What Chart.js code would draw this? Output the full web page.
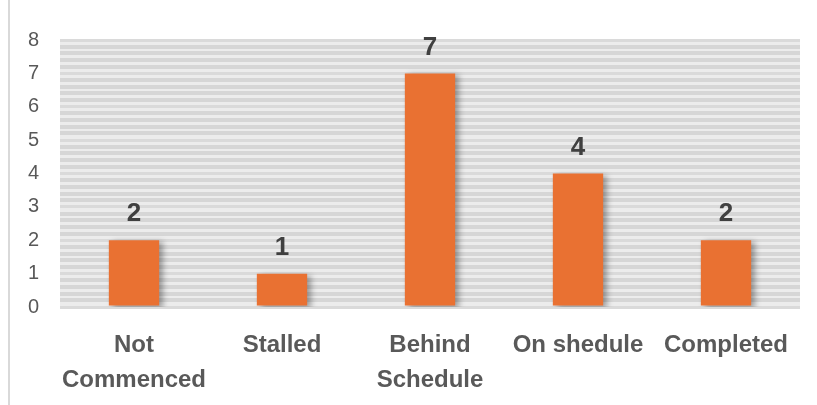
<!DOCTYPE html>
<html>
<head>
    <title>Project Status</title>
    <script src="https://cdn.jsdelivr.net/npm/chart.js"></script>
    <style>
        body { margin: 0; background: #fff; }
        .frame { position: absolute; left: 8px; top: 0; width: 809px; height: 405px; border-left: 2px solid #d9d9d9; }
        #wrap { position: absolute; left: 0; top: 0; width: 817px; height: 405px; }
    </style>
</head>
<body>
    <div class="frame"></div>
    <div id="wrap"><canvas id="status-chart"></canvas></div>

    <script>
        const categories = [['Not', 'Commenced'], 'Stalled', ['Behind', 'Schedule'], 'On shedule', 'Completed'];
        const projectCounts = [2, 1, 7, 4, 2];
        const yMax = 8;

        // light striped backdrop behind the plot area
        const plotBackdrop = {
            id: 'plotBackdrop',
            beforeDraw(chart) {
                const a = chart.chartArea, ctx = chart.ctx;
                ctx.save();
                ctx.fillStyle = '#ececec';
                ctx.fillRect(a.left, a.top, a.right - a.left, a.bottom - a.top);
                ctx.restore();
            }
        };

        const barShadow = {
            id: 'barShadow',
            beforeDatasetsDraw(chart) {
                const ctx = chart.ctx;
                ctx.save();
                ctx.shadowColor = 'rgba(0,0,0,0.35)';
                ctx.shadowOffsetX = 4;
                ctx.shadowOffsetY = 2;
                ctx.shadowBlur = 6;
            },
            afterDatasetsDraw(chart) {
                chart.ctx.restore();
            }
        };

        const valueLabels = {
            id: 'valueLabels',
            afterDatasetsDraw(chart) {
                const ctx = chart.ctx;
                const meta = chart.getDatasetMeta(0);
                ctx.save();
                ctx.font = 'bold 26px "Liberation Sans Narrow", "Liberation Sans", Arial, sans-serif';
                ctx.fillStyle = '#404040';
                ctx.textAlign = 'center';
                ctx.textBaseline = 'bottom';
                meta.data.forEach((bar, i) => {
                    ctx.fillText(projectCounts[i], bar.x, bar.y - 13);
                });
                ctx.restore();
            }
        };

        new Chart(document.getElementById('status-chart'), {
            type: 'bar',
            data: {
                labels: categories,
                datasets: [{
                    data: projectCounts,
                    backgroundColor: '#e97132',
                    borderWidth: 0,
                    barPercentage: 0.34,
                    categoryPercentage: 1
                }]
            },
            options: {
                responsive: true,
                maintainAspectRatio: false,
                animation: false,
                layout: { padding: { left: 8, right: 17, top: 40, bottom: 0 } },
                plugins: { legend: { display: false }, tooltip: { enabled: false } },
                scales: {
                    x: {
                        grid: { display: false },
                        border: { display: false },
                        ticks: {
                            color: '#595959',
                            font: { family: '"Liberation Sans", Arial, sans-serif', size: 24, weight: 'bold', lineHeight: 1.45 },
                            maxRotation: 0,
                            autoSkip: false,
                            padding: 13
                        },
                        afterFit: s => { s.height = 98; }
                    },
                    y: {
                        min: 0,
                        max: yMax,
                        border: { display: false },
                        grid: {
                            color: ctx => Number.isInteger(Math.round(ctx.tick.value * 1000) / 1000) ? '#dadada' : '#d6d6d6',
                            lineWidth: ctx => Number.isInteger(Math.round(ctx.tick.value * 1000) / 1000) ? 3 : 4,
                            drawTicks: false
                        },
                        ticks: {
                            stepSize: 0.2,
                            autoSkip: false,
                            color: '#595959',
                            font: { family: '"Liberation Sans", Arial, sans-serif', size: 20 },
                            padding: 21,
                            callback: v => Math.abs(v - Math.round(v)) < 1e-6 ? Math.round(v) : ''
                        },
                        afterFit: s => { s.width = 52; }
                    }
                }
            },
            plugins: [plotBackdrop, barShadow, valueLabels]
        });
    </script>
</body>
</html>
